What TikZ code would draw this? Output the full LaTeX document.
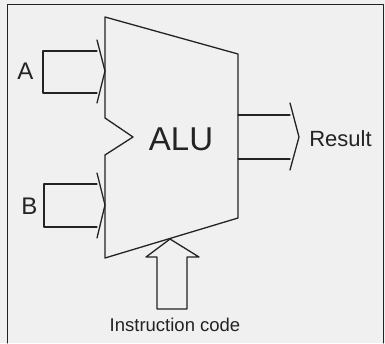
\documentclass[tikz,border=0pt]{standalone}
\usepackage{fontspec}
\setmainfont{Liberation Sans}
\definecolor{paper}{RGB}{240,240,240}
\definecolor{ink}{RGB}{35,35,35}
\newcommand{\fsz}[1]{\fontsize{#1}{#1}\selectfont}
\begin{document}
\begin{tikzpicture}[x=1pt, y=-1pt, line join=round, line cap=round,
		wire/.style={draw=ink, line width=1.3pt},
		lbl/.style={inner sep=0pt, text=ink}]
				\fill[paper] (0,0) rectangle (385,343);
				\useasboundingbox (0,0) rectangle (385,343);
				\draw[ink, line width=1pt] (7,343)--(7,4)--(383,4)--(383,343);
				% ALU body
				\coordinate (tl) at (105,17);
				\coordinate (tr) at (238,54);
				\coordinate (br) at (238,218);
				\coordinate (bl) at (105,258);
				\coordinate (notch) at (133,137);
				\draw[wire] (tl)--(tr)--(br)--(bl)--(105,155)--(notch)--(105,118)--cycle;
				% inputs
				\draw[wire] (97,51)--(43,51)--(43,93)--(97,93);
				\draw[wire] (97,40)--(105,71)--(97,103);
				\draw[wire] (97,184)--(44,184)--(44,227)--(97,227);
				\draw[wire] (97,173)--(105,205)--(97,238);
				% output
				\draw[wire] (br|-0,115)--(290,115) (br|-0,159)--(290,159);
				\draw[wire] (290,103)--(299,137)--(290,170);
				% instruction code
				\draw[wire] (170,239)--(146,257)--(157,257)--(157,309)--(187,309)--(187,257)--(199,257)--cycle;
				\node[lbl] (alu) at (181,139) {\fsz{33}ALU};
				\node[lbl] (a) at (25.5,71) {\fsz{24}A};
				\node[lbl] (b) at (29.5,206) {\fsz{24}B};
				\node[lbl] (res) at (340.5,139) {\fsz{22}Result};
				\node[lbl] (ins) at (175,325) {\fsz{18.5}Instruction code};
			\end{tikzpicture}
\end{document}
